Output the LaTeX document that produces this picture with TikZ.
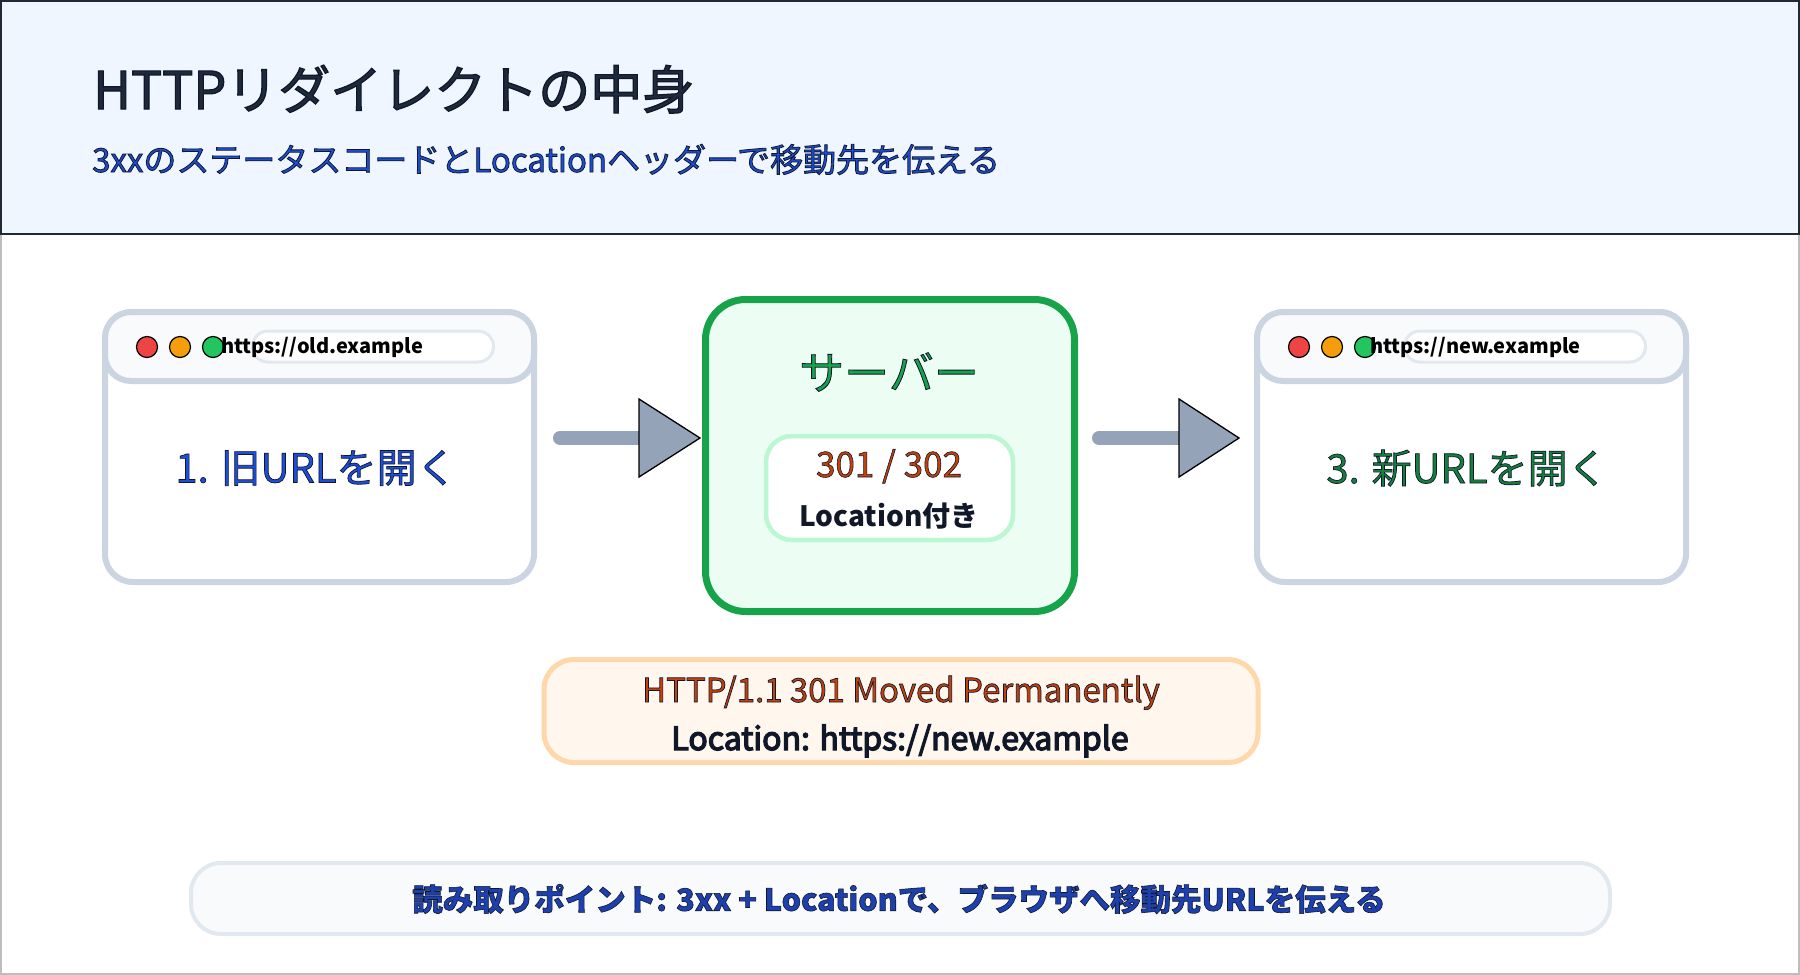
\documentclass[tikz,border=0pt]{standalone}
\usepackage{fontspec}
\setmainfont{Noto Sans CJK JP}
\usetikzlibrary{calc}
\definecolor{hdrfill}{HTML}{EFF6FF}
\definecolor{hdrline}{HTML}{1F2937}
\definecolor{frameline}{HTML}{BDBDBD}
\definecolor{slateline}{HTML}{CBD5E1}
\definecolor{barfill}{HTML}{F8FAFC}
\definecolor{urlline}{HTML}{E2E8F0}
\definecolor{titletext}{HTML}{1E293B}
\definecolor{subtext}{HTML}{1E40AF}
\definecolor{bluetext}{HTML}{1D4ED8}
\definecolor{greentext}{HTML}{15803D}
\definecolor{servgreen}{HTML}{16A34A}
\definecolor{servfill}{HTML}{ECFDF3}
\definecolor{innerline}{HTML}{BBF7D0}
\definecolor{orangetext}{HTML}{C2410C}
\definecolor{respfill}{HTML}{FFF7ED}
\definecolor{respline}{HTML}{FED7AA}
\definecolor{arrowgray}{HTML}{94A3B8}
\definecolor{dotred}{HTML}{EF4444}
\definecolor{dotorange}{HTML}{F59E0B}
\definecolor{dotgreen}{HTML}{22C55E}
\definecolor{darktext}{HTML}{111827}
% outlined text (fill + thin dark stroke)
\newcommand{\oltext}[2][0.9]{\special{pdf:literal direct 2 Tr #1 w 0.06 0.09 0.16 RG}#2\special{pdf:literal direct 0 Tr}}
\tikzset{
  win/.style={draw=slateline, line width=6pt, fill=white, rounded corners=28pt,
    minimum width=429pt, minimum height=270pt, inner sep=0pt},
  winbar/.style={draw=slateline, line width=6pt, fill=barfill, rounded corners=26pt,
    minimum width=429pt, minimum height=69pt, inner sep=0pt},
  wdot/.style={circle, draw=black, line width=1.2pt, minimum size=21pt, inner sep=0pt},
  urlbar/.style={draw=urlline, line width=3pt, fill=white, rounded corners=15.5pt,
    minimum width=241pt, minimum height=31pt, inner sep=0pt},
  urltext/.style={font=\bfseries\fontsize{20}{24}\selectfont, text=black, inner sep=0pt, anchor=west},
  wintext/.style={font=\fontsize{40}{48}\selectfont, inner sep=0pt},
  flow/.style={draw=arrowgray, line width=14pt, line cap=round},
  headtri/.style={draw=black, line width=1.3pt, fill=arrowgray, line join=miter},
}
\begin{document}
\begin{tikzpicture}[x=1pt,y=-1pt]
\useasboundingbox (0,0) rectangle (1800,975);
\fill[white] (0,0) rectangle (1800,975);
\draw[frameline, line width=2pt] (1,1) rectangle (1799,974);
% header
\draw[hdrline, fill=hdrfill, line width=2.2pt] (1,1) rectangle (1799,234);
\node[anchor=base west, inner sep=0pt, text=titletext, font=\fontsize{52}{60}\selectfont] (title) at (93,109) {\oltext[1.2]{HTTPリダイレクトの中身}};
\node[anchor=base west, inner sep=0pt, text=bluetext, font=\fontsize{33}{38}\selectfont] (subtitle) at (92,172) {\oltext[0.8]{3xxのステータスコードとLocationヘッダーで移動先を伝える}};

% left browser
\node[win] (L) at (319.5,447) {};
\node[winbar] (Lbar) at (319.5,346.5) {};
\node[urlbar] (Lurl) at (373,346.5) {};
\node[wdot, fill=dotred] (Ld1) at (147,347) {};
\node[wdot, fill=dotorange] (Ld2) at (180,347) {};
\node[wdot, fill=dotgreen] (Ld3) at (213,347) {};
\node[urltext] (Lurltext) at (221,347) {https://old.example};
\node[wintext, text=bluetext] (Ltext) at (316,468) {\oltext[0.7]{1. 旧URLを開く}};

% right browser
\node[win] (R) at (1471.5,447) {};
\node[winbar] (Rbar) at (1471.5,346.5) {};
\node[urlbar] (Rurl) at (1525,346.5) {};
\node[wdot, fill=dotred] (Rd1) at (1299,347) {};
\node[wdot, fill=dotorange] (Rd2) at (1332,347) {};
\node[wdot, fill=dotgreen] (Rd3) at (1365,347) {};
\node[urltext] (Rurltext) at (1370,347) {https://new.example};
\node[wintext, text=greentext] (Rtext) at (1467,468) {\oltext[0.7]{3. 新URLを開く}};

% server
\node[draw=servgreen, line width=7pt, fill=servfill, rounded corners=40pt,
  minimum width=369pt, minimum height=312pt, inner sep=0pt] (S) at (890,455.5) {};
\node[inner sep=0pt, text=servgreen, font=\fontsize{45}{52}\selectfont] (Stitle) at (889,372) {\oltext[0.8]{サーバー}};
\node[draw=innerline, line width=4.5pt, fill=white, rounded corners=26pt,
  minimum width=247pt, minimum height=104pt, inner sep=0pt] (I) at (889.5,488) {};
\node[anchor=base, inner sep=0pt, text=orangetext, font=\fontsize{35}{42}\selectfont] (code) at (889,477) {\oltext[0.6]{301 / 302}};
\node[anchor=base, inner sep=0pt, text=darktext, font=\bfseries\fontsize{28}{34}\selectfont] (loc) at (889,526) {Location付き};

% arrows
\coordinate (ay) at (0,438);
\draw[flow] ($(L.east|-ay)+(23,0)$) -- ($(S.west|-ay)+(-58,0)$);
\draw[headtri] ($(S.west|-ay)+(-2,0)$) -- ++(-61,-39) -- ++(0,78) -- cycle;
\draw[flow] ($(S.east|-ay)+(21,0)$) -- ($(R.west|-ay)+(-74,0)$);
\draw[headtri] ($(R.west|-ay)+(-15,0)$) -- ++(-60,-39) -- ++(0,78) -- cycle;

% response
\node[draw=respline, line width=5pt, fill=respfill, rounded corners=30pt,
  minimum width=714pt, minimum height=103pt, inner sep=0pt] (resp) at (901,711) {};
\node[anchor=base, inner sep=0pt, text=orangetext, font=\fontsize{33}{40}\selectfont] (resp1) at (901,702) {\oltext[0.7]{HTTP/1.1 301 Moved Permanently}};
\node[anchor=base, inner sep=0pt, text=darktext, font=\fontsize{32}{40}\selectfont] (resp2) at (900,750) {\oltext[1.3]{Location: https://new.example}};

% bottom note
\node[draw=urlline, line width=4pt, fill=barfill, rounded corners=30pt,
  minimum width=1419pt, minimum height=71pt, inner sep=0pt] (note) at (900.5,898.5) {};
\node[inner sep=0pt, text=subtext, font=\bfseries\fontsize{30.5}{36}\selectfont] (notetext) at (899,899) {\oltext[0.6]{読み取りポイント: 3xx + Locationで、ブラウザへ移動先URLを伝える}};
\end{tikzpicture}
\end{document}
